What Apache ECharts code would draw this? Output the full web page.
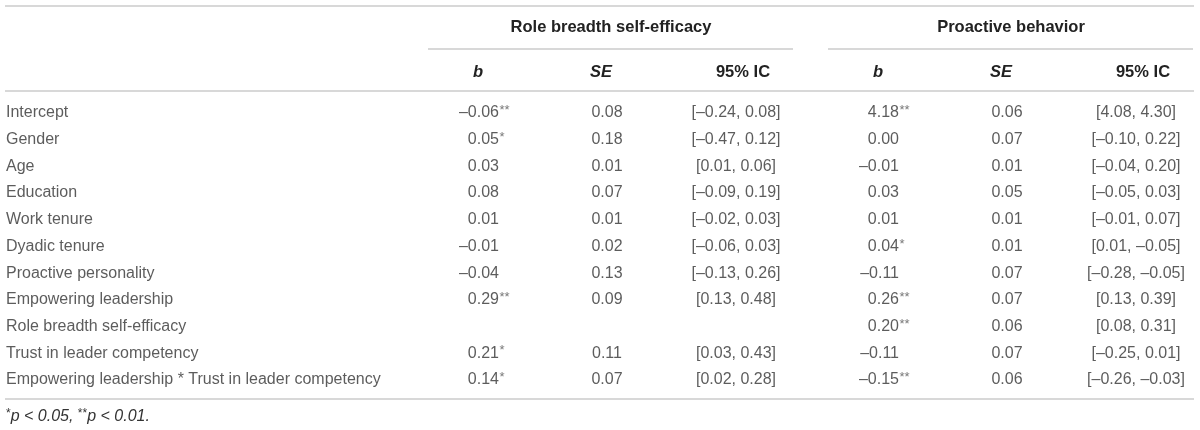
<!DOCTYPE html>
<html>
<head>
<meta charset="utf-8">
<script src="https://cdn.jsdelivr.net/npm/echarts@6/dist/echarts.min.js"></script>
<style>html,body{margin:0;padding:0;background:#fff}#c{width:1200px;height:430px}</style>
</head>
<body>
<div id="c"></div>
<script>
// ---------- data ----------
const rowLabels = ['Intercept','Gender','Age','Education','Work tenure','Dyadic tenure','Proactive personality','Empowering leadership','Role breadth self-efficacy','Trust in leader competency','Empowering leadership * Trust in leader competency'];
const groupTitles = ['Role breadth self-efficacy','Proactive behavior'];
const colHeaders = ['b','SE','95% IC'];
// Role breadth self-efficacy
const rbseB   = [-0.06, 0.05, 0.03, 0.08, 0.01, -0.01, -0.04, 0.29, null, 0.21, 0.14];
const rbseSig = ['**','*','','','','','','**','','*','*'];
const rbseSE  = [0.08, 0.18, 0.01, 0.07, 0.01, 0.02, 0.13, 0.09, null, 0.11, 0.07];
const rbseLo  = [-0.24, -0.47, 0.01, -0.09, -0.02, -0.06, -0.13, 0.13, null, 0.03, 0.02];
const rbseHi  = [0.08, 0.12, 0.06, 0.19, 0.03, 0.03, 0.26, 0.48, null, 0.43, 0.28];
// Proactive behavior
const pbB   = [4.18, 0.00, -0.01, 0.03, 0.01, 0.04, -0.11, 0.26, 0.20, -0.11, -0.15];
const pbSig = ['**','','','','','*','','**','**','','**'];
const pbSE  = [0.06, 0.07, 0.01, 0.05, 0.01, 0.01, 0.07, 0.07, 0.06, 0.07, 0.06];
const pbLo  = [4.08, -0.10, -0.04, -0.05, -0.01, 0.01, -0.28, 0.13, 0.08, -0.25, -0.26];
const pbHi  = [4.30, 0.22, 0.20, 0.03, 0.07, -0.05, -0.05, 0.39, 0.31, 0.01, -0.03];
const footnote = ['*', 'p < 0.05, ', '**', 'p < 0.01.'];

// ---------- layout / style ----------
const FONT = '"Liberation Sans", Arial, Helvetica, sans-serif';
const TXT = '#333';
const RULE = '#cbcbcb';
const FS = 16, FSB = 16.5;
const L = { labelX: 6, groupShift: 400, bRight: 499, seX: 607, ciX: 736,
            hB: 478, hSE: 601, hCI: 743, titleX: 611, ruleL: 428, ruleR: 793 };

const fmt = v => (v < 0 ? '\u2013' : '') + Math.abs(v).toFixed(2);

function textSeries(x, texts, pos, extra) {
  return Object.assign({
    type: 'scatter', symbolSize: 0, silent: true, animation: false,
    data: texts.map((t, i) => (t === null || t === '') ? null : { value: [x, i], name: t }),
    label: Object.assign({ show: true, position: pos, distance: 0, formatter: p => p.name,
      color: TXT, fontSize: FS, fontFamily: FONT }, extra || {})
  });
}

const groups = [
  { b: rbseB, sig: rbseSig, se: rbseSE, lo: rbseLo, hi: rbseHi },
  { b: pbB, sig: pbSig, se: pbSE, lo: pbLo, hi: pbHi }
];

const series = [textSeries(L.labelX, rowLabels, 'right')];
const graphic = [];
function hline(x1, x2, y) {
  graphic.push({ type: 'line', silent: true, shape: { x1, y1: y, x2, y2: y }, style: { stroke: RULE, lineWidth: 1.6 } });
}
function gtext(text, x, y, align, weight, style) {
  graphic.push({ type: 'text', silent: true, style: { text, x, y, align, verticalAlign: 'middle',
    fontSize: FSB, fontWeight: weight || 'normal', fontStyle: style || 'normal', fontFamily: FONT, fill: '#222' } });
}

hline(5, 1194, 6);
hline(5, 1194, 91);
hline(5, 1194, 399);

groups.forEach((g, k) => {
  const d = k * L.groupShift;
  series.push(textSeries(L.bRight + d, g.b.map(v => v === null ? null : fmt(v)), 'left'));
  series.push(textSeries(L.bRight + d, g.sig, 'right', { fontSize: 13, offset: [0.5, -2.5], color: '#555' }));
  series.push(textSeries(L.seX + d, g.se.map(v => v === null ? null : fmt(v)), 'inside'));
  series.push(textSeries(L.ciX + d, g.lo.map((v, i) => v === null ? null : '[' + fmt(v) + ', ' + fmt(g.hi[i]) + ']'), 'inside'));
  gtext(groupTitles[k], L.titleX + d, 27, 'center', 'bold');
  hline(L.ruleL + d, L.ruleR + d, 49);
  gtext(colHeaders[0], L.hB + d, 72, 'center', 'bold', 'italic');
  gtext(colHeaders[1], L.hSE + d, 72, 'center', 'bold', 'italic');
  gtext(colHeaders[2], L.hCI + d, 72, 'center', 'bold');
});

graphic.push({ type: 'text', silent: true, style: {
  x: 6, y: 417, verticalAlign: 'middle', fill: TXT, fontFamily: FONT,
  text: '{s|' + footnote[0] + '}{i|' + footnote[1] + '}{s|' + footnote[2] + '}{i|' + footnote[3] + '}',
  rich: {
    s: { fontSize: 12, fontFamily: FONT, fill: TXT, verticalAlign: 'top', lineHeight: 19 },
    i: { fontSize: FS, fontStyle: 'italic', fontFamily: FONT, fill: TXT, lineHeight: 19 }
  } } });

const chart = echarts.init(document.getElementById('c'), null, { renderer: 'canvas' });
chart.setOption({
  animation: false,
  backgroundColor: '#fff',
  grid: { left: 0, right: 0, top: 99.6, bottom: 36.7 },
  xAxis: { type: 'value', min: 0, max: 1200, show: false },
  yAxis: { type: 'category', data: rowLabels, inverse: true, show: false },
  series,
  graphic
});
</script>
</body>
</html>
